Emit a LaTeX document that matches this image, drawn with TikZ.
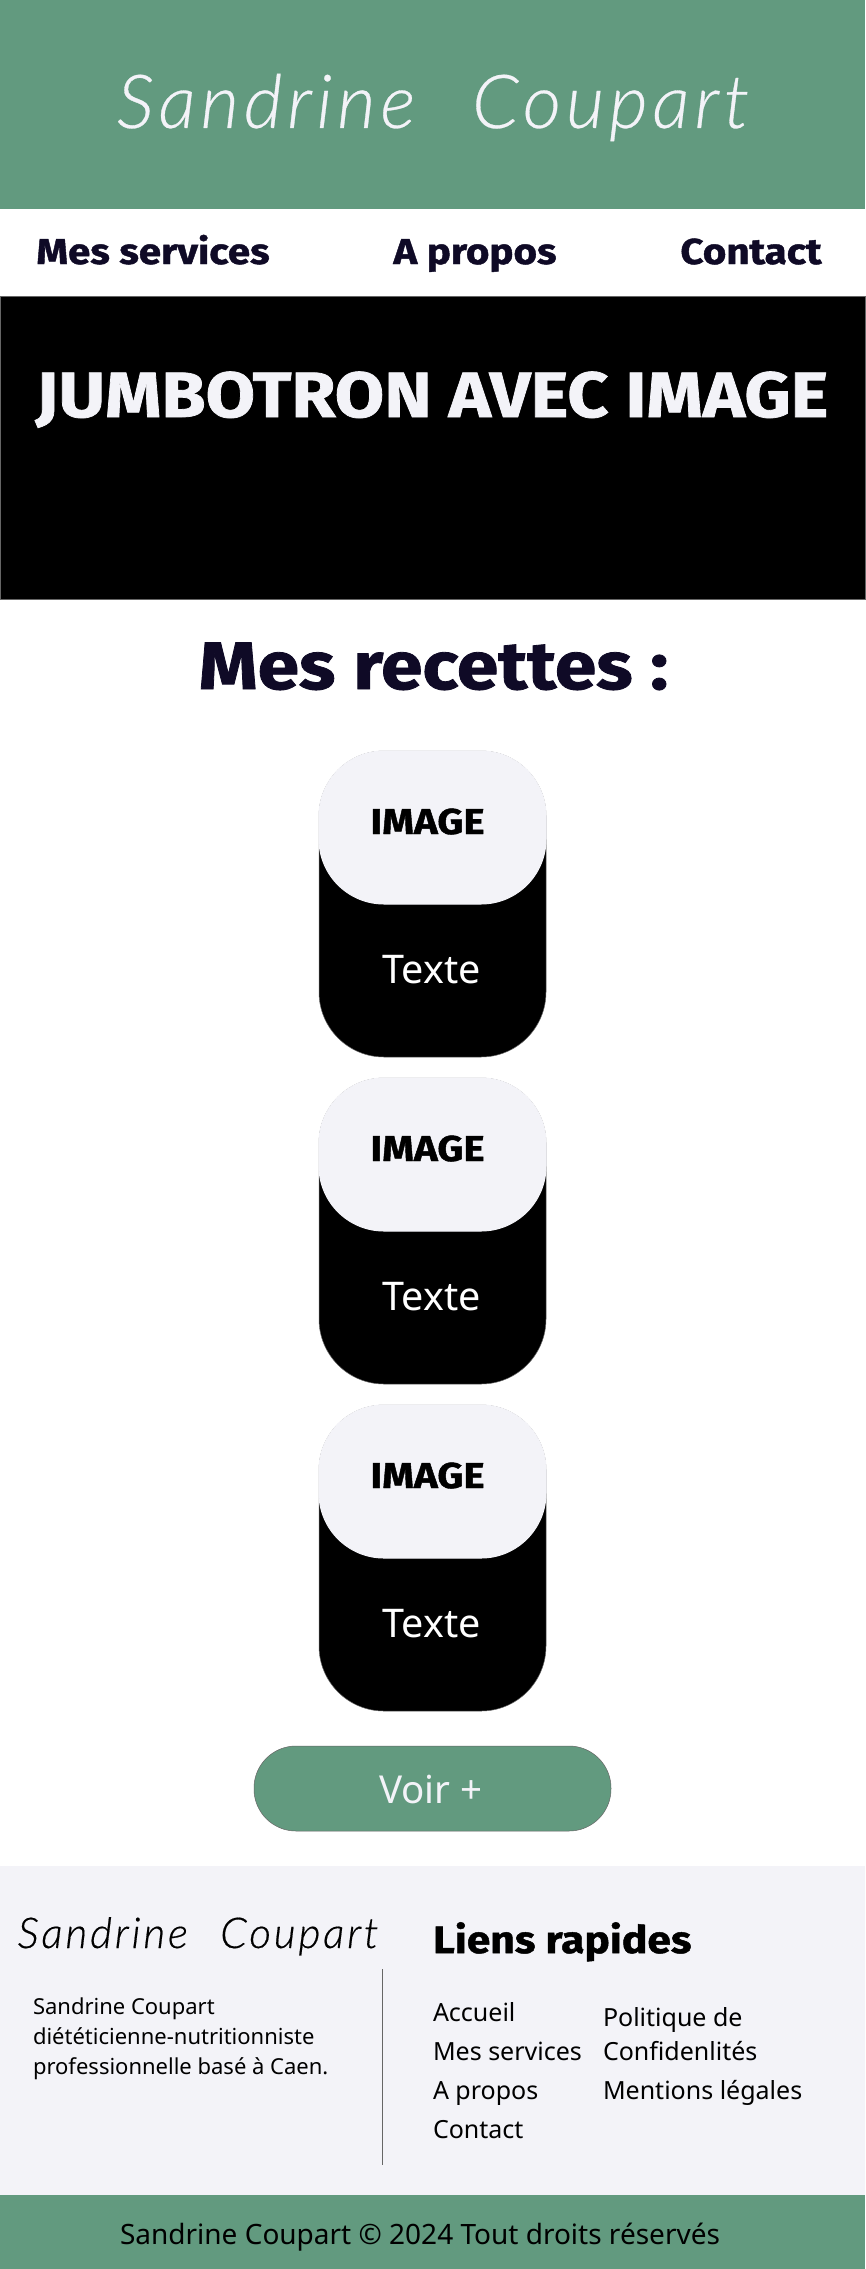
\documentclass[tikz,border=0pt]{standalone}
\usepackage{fontspec}
\usetikzlibrary{calc}
\setmainfont{Noto Sans}
\newfontfamily\headfont[FakeStretch=1.12,FakeBold=1.2]{Fira Sans Bold}
\newfontfamily\handfont[LetterSpace=6.5,WordSpace=2.4,FakeBold=.4]{Lato Light Italic}
\definecolor{sagegreen}{HTML}{629A7F}
\definecolor{palegray}{HTML}{F3F3F8}
\definecolor{inkblue}{HTML}{0F0A26}
\tikzstyle{every node}=[inner sep=0pt,outer sep=0pt,anchor=base]
\tikzstyle{navtext}=[font=\fontsize{36}{36}\selectfont\headfont,text=inkblue]
\tikzstyle{cardbody}=[fill=black,draw=black!60,line width=.5pt,rounded corners=65pt,minimum width=227pt,minimum height=306pt,anchor=north]
\tikzstyle{cardimage}=[fill=palegray,draw=palegray,line width=1pt,rounded corners=65pt,minimum width=227pt,minimum height=153pt,anchor=north]
\tikzstyle{cardtitle}=[font=\fontsize{36}{36}\selectfont\headfont,text=black]
\tikzstyle{cardtext}=[font=\fontsize{39.5}{39.5}\selectfont,text=white]
\tikzstyle{linktext}=[font=\fontsize{25}{25}\selectfont,text=black,anchor=base west]
\tikzstyle{desctext}=[font=\fontsize{22}{22}\selectfont,text=black,anchor=base west]
\begin{document}
\begin{tikzpicture}[x=1pt,y=-1pt]
% Page layout, one unit is one pixel
	\useasboundingbox (0,0) rectangle (865,2269);
	\newcommand\cardgap{327} %distance between two cards
	%Bands
	\fill [sagegreen] (0,0) rectangle (865,209);
	\fill [white] (0,209) rectangle (865,1866);
	\draw [fill=black,draw=black!60,line width=.5pt] (0,296.5) rectangle (865,599);
	\fill [palegray] (0,1866) rectangle (865,2195);
	\fill [sagegreen] (0,2195) rectangle (865,2269);
	%Header
	\node [font=\fontsize{74.5}{74.5}\selectfont\handfont,text=palegray] (HeadSign) at (433,128) {Sandrine Coupart};
	%Menu
	\node [navtext] (NavServices) at (153,264) {Mes services};
	\node [navtext] (NavAbout) at (475,264) {A propos};
	\node [navtext] (NavContact) at (751,264) {Contact};
	%Jumbotron
	\node [font=\fontsize{64}{64}\selectfont\headfont,text=palegray] (JumboTitle) at (432,417) {JUMBOTRON AVEC IMAGE};
	%Section title
	\node [font=\fontsize{67}{67}\selectfont\headfont,text=inkblue] (RecipeTitle) at (433.5,689) {Mes recettes :};
	%First card
	\coordinate (C1) at (432.5,751); %C1= top of card 1
	\node [cardbody] (Body1) at (C1) {};
	\node [cardimage] (Image1) at (C1) {};
	\node [cardtitle] (ImageTitle1) at ($(C1)+(-5,83)$) {IMAGE};
	\node [cardtext] (Text1) at ($(C1)+(-1,232)$) {Texte};
	%Second card
	\coordinate (C2) at (432.5,751+\cardgap); %C2= top of card 2
	\node [cardbody] (Body2) at (C2) {};
	\node [cardimage] (Image2) at (C2) {};
	\node [cardtitle] (ImageTitle2) at ($(C2)+(-5,83)$) {IMAGE};
	\node [cardtext] (Text2) at ($(C2)+(-1,232)$) {Texte};
	%Third card
	\coordinate (C3) at (432.5,751+2*\cardgap); %C3= top of card 3
	\node [cardbody] (Body3) at (C3) {};
	\node [cardimage] (Image3) at (C3) {};
	\node [cardtitle] (ImageTitle3) at ($(C3)+(-5,83)$) {IMAGE};
	\node [cardtext] (Text3) at ($(C3)+(-1,232)$) {Texte};
	%Button
	\node [fill=sagegreen,draw=black!60,line width=.5pt,rounded corners=42pt,minimum width=357pt,minimum height=85pt,anchor=center] (MoreButton) at (432.5,1788.5) {};
	\node [font=\fontsize{38.5}{38.5}\selectfont,text=palegray] (MoreText) at (431,1803) {Voir +};
	%Footer left
	\node [font=\fontsize{42.5}{42.5}\selectfont\handfont,text=black] (FootSign) at (198,1948) {Sandrine Coupart};
	\node [desctext] (Desc1) at (33,2014) {Sandrine Coupart};
	\node [desctext] (Desc2) at (33,2044) {diététicienne-nutritionniste};
	\node [desctext] (Desc3) at (33,2074) {professionnelle basé à Caen.};
	%Divider
	\coordinate (DivTop) at (382,1969);
	\coordinate (DivBottom) at (382,2165);
	\draw [black!60,line width=1pt] (DivTop) -- (DivBottom);
	%Footer right
	\node [font=\fontsize{38}{38}\selectfont\headfont,text=black,anchor=base west] (LinksTitle) at (433,1953) {Liens rapides};
	\node [linktext] (LinkHome) at (433,2021) {Accueil};
	\node [linktext] (LinkServices) at (433,2060) {Mes services};
	\node [linktext] (LinkAbout) at (433,2099) {A propos};
	\node [linktext] (LinkContact) at (433,2138) {Contact};
	\node [linktext] (LinkPolicy1) at (603,2026) {Politique de};
	\node [linktext] (LinkPolicy2) at (603,2060) {Confidenlités};
	\node [linktext] (LinkLegal) at (603,2099) {Mentions légales};
	%Copyright
	\node [font=\fontsize{28}{28}\selectfont,text=black] (CopyText) at (420,2244) {Sandrine Coupart © 2024 Tout droits réservés};
\end{tikzpicture}
\end{document}
